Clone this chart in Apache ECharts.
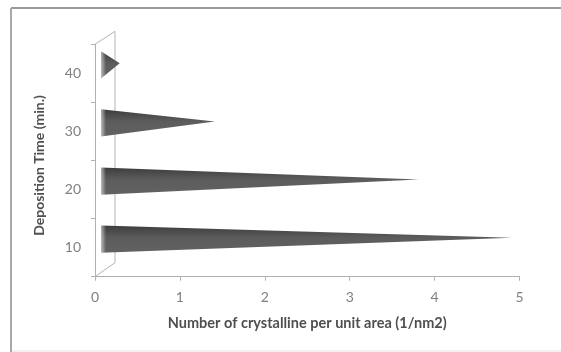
<!DOCTYPE html>
<html>
<head>
<meta charset="utf-8">
<script src="https://cdn.jsdelivr.net/npm/echarts@6/dist/echarts.min.js"></script>
<style>
  html, body { margin: 0; padding: 0; background: #fff; }
  #main { width: 561px; height: 352px; }
</style>
</head>
<body>
<div id="main"></div>
<script>
// deposition time categories (min.) and crystalline density values
var times = ['10', '20', '30', '40'];
var density = [4.84, 3.74, 1.34, 0.22];
var xTicks = [0, 1, 2, 3, 4, 5];

var chart = echarts.init(document.getElementById('main'));

// depth of the fake 3D wall, in px
var DEPTH_X = 20, DEPTH_Y = -13;

function coneItem(params, api) {
    var v = api.value(0), c = api.value(1);
    var base = api.coord([0, c]);
    var tip = api.coord([v, c]);
    var band = api.size([0, 1])[1];
    var h = band * 0.235;
    var bx = base[0] + 6, yc = base[1] - 8.5;
    var tx = tip[0] + 6;
    return {
        type: 'group',
        children: [
            {
                type: 'polygon',
                shape: { points: [[bx, yc - h], [tx, yc - 1.5], [bx, yc + h]] },
                style: {
                    fill: new echarts.graphic.LinearGradient(0, 0, 0, 1, [
                        { offset: 0, color: '#3c3c3c' },
                        { offset: 0.2, color: '#4b4b4b' },
                        { offset: 0.45, color: '#5c5c5c' },
                        { offset: 1, color: '#626262' }
                    ])
                }
            },
            {
                // soft light rim at the cone base
                type: 'rect',
                shape: { x: bx - 1, y: yc - h - 1, width: 6, height: 2 * h + 2 },
                style: {
                    fill: new echarts.graphic.LinearGradient(0, 0, 1, 0, [
                        { offset: 0, color: 'rgba(255,255,255,0.7)' },
                        { offset: 1, color: 'rgba(255,255,255,0)' }
                    ])
                }
            }
        ]
    };
}

function wallItem(params, api) {
    var band = api.size([0, 1])[1];
    var x0 = api.coord([0, 0])[0];
    var bottom = api.coord([0, 0])[1] + band / 2;
    var top = api.coord([0, times.length - 1])[1] - band / 2;
    var st = { stroke: '#b4b4b4', lineWidth: 1, fill: null };
    return {
        type: 'group',
        children: [
            { type: 'line', shape: { x1: x0 + DEPTH_X, y1: top + DEPTH_Y, x2: x0 + DEPTH_X, y2: bottom + DEPTH_Y - 1 }, style: st },
            { type: 'line', shape: { x1: x0, y1: top, x2: x0 + DEPTH_X, y2: top + DEPTH_Y }, style: st },
            { type: 'line', shape: { x1: x0, y1: bottom, x2: x0 + DEPTH_X, y2: bottom + DEPTH_Y - 1 }, style: st }
        ]
    };
}

var coneData = [];
for (var i = 0; i < times.length; i++) {
    coneData.push([density[i], i]);
}

var option = {
    backgroundColor: '#fff',
    animation: false,
    textStyle: { fontFamily: 'Lato' },
    grid: { left: 95, right: 41.5, top: 44.3, bottom: 75.3 },
    xAxis: {
        type: 'value',
        min: xTicks[0],
        max: xTicks[xTicks.length - 1],
        interval: 1,
        splitLine: { show: false },
        axisLine: { show: true, lineStyle: { color: '#b0b0b0' } },
        axisTick: { show: true, length: 4, lineStyle: { color: '#b0b0b0' } },
        axisLabel: { color: '#808080', fontSize: 14, margin: 14 },
        name: 'Number of crystalline per unit area (1/nm2)',
        nameLocation: 'middle',
        nameGap: 39,
        nameTextStyle: { color: '#4f4f4f', fontSize: 14.5, fontWeight: 'bold' }
    },
    yAxis: {
        type: 'category',
        data: times,
        axisLine: { show: true, lineStyle: { color: '#b0b0b0' } },
        axisTick: { show: true, length: 4, lineStyle: { color: '#b0b0b0' } },
        axisLabel: { color: '#808080', fontSize: 14, margin: 14 },
        name: 'Deposition Time (min.)',
        nameLocation: 'middle',
        nameGap: 49,
        nameTextStyle: { color: '#4f4f4f', fontSize: 14, fontWeight: 'bold', padding: [0, 10, 0, 0] }
    },
    series: [
        {
            type: 'custom',
            renderItem: wallItem,
            data: [[0, 0]],
            clip: false,
            silent: true,
            z: 1
        },
        {
            type: 'custom',
            renderItem: coneItem,
            data: coneData,
            encode: { x: 0, y: 1 },
            clip: false,
            z: 2
        }
    ],
    graphic: [
        { type: 'line', shape: { x1: 11, y1: 8, x2: 561, y2: 8 }, style: { stroke: '#9a9a9a', lineWidth: 2 } },
        { type: 'line', shape: { x1: 11, y1: 8, x2: 11, y2: 352 }, style: { stroke: '#a8a8a8', lineWidth: 2 } },
        { type: 'line', shape: { x1: 12, y1: 351, x2: 561, y2: 351 }, style: { stroke: '#e4e4e4', lineWidth: 1 } }
    ]
};

chart.setOption(option);
</script>
</body>
</html>
